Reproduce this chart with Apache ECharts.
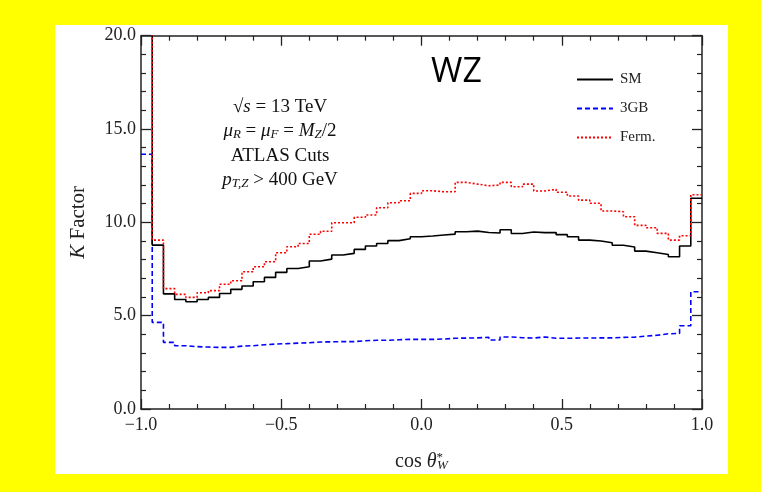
<!DOCTYPE html>
<html><head><meta charset="utf-8">
<script src="https://cdn.jsdelivr.net/npm/echarts@6/dist/echarts.min.js"></script>
<style>html,body{margin:0;padding:0;background:#ffff00;}#c{width:761px;height:492px;}</style>
</head><body><div id="c"></div>
<script>
// Histogram binning: 50 bins of width 0.04 on [-1, 1]
const binStart = -1.0;
const binWidth = 0.04;
const seriesNames = ['SM', '3GB', 'Ferm.'];
const smValues = [30, 8.78, 6.17, 5.87, 5.75, 5.87, 5.98, 6.19, 6.41, 6.59,
  6.82, 7.05, 7.32, 7.53, 7.62, 7.93, 8.03, 8.25, 8.34, 8.55,
  8.73, 8.87, 9.02, 9.12, 9.23, 9.27, 9.32, 9.37, 9.50, 9.53,
  9.46, 9.43, 9.60, 9.40, 9.48, 9.45, 9.45, 9.34, 9.23, 9.05,
  9.00, 8.91, 8.77, 8.68, 8.46, 8.37, 8.28, 8.16, 8.73, 11.29];
const gbValues = [13.65, 4.64, 3.57, 3.39, 3.34, 3.32, 3.30, 3.30, 3.37, 3.39,
  3.44, 3.48, 3.50, 3.53, 3.55, 3.59, 3.60, 3.61, 3.61, 3.66,
  3.68, 3.68, 3.71, 3.73, 3.73, 3.73, 3.75, 3.79, 3.80, 3.81,
  3.84, 3.70, 3.86, 3.82, 3.80, 3.86, 3.79, 3.79, 3.80, 3.80,
  3.81, 3.81, 3.84, 3.85, 3.91, 3.95, 4.03, 4.05, 4.46, 6.28];
const fermValues = [30, 9.05, 6.45, 6.14, 5.98, 6.23, 6.34, 6.68, 6.87, 7.35,
  7.62, 7.89, 8.37, 8.69, 8.87, 9.36, 9.52, 9.98, 9.98, 10.27,
  10.39, 10.78, 11.05, 11.16, 11.55, 11.69, 11.64, 11.64, 12.14, 12.05,
  11.96, 12.00, 12.14, 11.91, 12.05, 11.68, 11.77, 11.61, 11.41, 11.19,
  11.02, 10.61, 10.57, 10.30, 9.84, 9.71, 9.41, 9.05, 9.28, 11.48];
const xMin = -1.0, xMax = 1.0, xInterval = 0.5;
const yMin = 0, yMax = 20, yInterval = 5;

function toSteps(vals) {
  const pts = vals.map((v, i) => [binStart + i * binWidth, v]);
  pts.push([binStart + vals.length * binWidth, vals[vals.length - 1]]);
  return pts;
}
const serif = 'Liberation Serif';
const axisColor = '#222';
function fmtX(v) { return v < 0 ? '\u2212' + Math.abs(v).toFixed(1) : v.toFixed(1); }

const baseX = {
  type: 'value', min: xMin, max: xMax, interval: xInterval,
  axisLine: { show: true, onZero: false, lineStyle: { color: axisColor, width: 1.5 } },
  axisTick: { show: true, inside: true, length: 10, lineStyle: { color: axisColor, width: 1.3 } },
  minorTick: { show: true, splitNumber: 5, length: 5, lineStyle: { color: axisColor, width: 1.2 } },
  splitLine: { show: false }
};
const baseY = {
  type: 'value', min: yMin, max: yMax, interval: yInterval,
  axisLine: { show: true, onZero: false, lineStyle: { color: axisColor, width: 1.5 } },
  axisTick: { show: true, inside: true, length: 10, lineStyle: { color: axisColor, width: 1.3 } },
  minorTick: { show: true, splitNumber: 5, length: 5, lineStyle: { color: axisColor, width: 1.2 } },
  splitLine: { show: false }
};

const chart = echarts.init(document.getElementById('c'), null, { renderer: 'canvas' });
const subStyle = { fontFamily: serif, fontSize: 13, fontStyle: 'italic', color: '#111', verticalAlign: 'bottom', padding: [8, 0, 0, 0] };
const itStyle = { fontFamily: serif, fontSize: 19, fontStyle: 'italic', color: '#111' };

chart.setOption({
  backgroundColor: '#ffff00',
  animation: false,
  grid: { left: 141, right: 59, top: 35.7, bottom: 83, containLabel: false },
  graphic: [
    { type: 'rect', z: -10, shape: { x: 55, y: 25, width: 673, height: 449 }, style: { fill: '#ffffff' } },
    { type: 'text', left: 431, top: 55, style: { text: 'WZ', font: '34px "Open Sans"', fill: '#000' } },
    { type: 'text', x: 280, y: 107, style: { text: '\u221A{i|s} = 13 TeV', textAlign: 'center', textVerticalAlign: 'middle', font: '19px "Liberation Serif"', fill: '#111', rich: { i: itStyle } } },
    { type: 'text', x: 280, y: 131, style: { text: '{i|\u03BC}{s|R} = {i|\u03BC}{s|F} = {i|M}{s|Z}/2', textAlign: 'center', textVerticalAlign: 'middle', font: '19px "Liberation Serif"', fill: '#111', rich: { i: itStyle, s: subStyle } } },
    { type: 'text', x: 280, y: 156, style: { text: 'ATLAS Cuts', textAlign: 'center', textVerticalAlign: 'middle', font: '19px "Liberation Serif"', fill: '#111' } },
    { type: 'text', x: 280, y: 180, style: { text: '{i|p}{s|T,Z} > 400 GeV', textAlign: 'center', textVerticalAlign: 'middle', font: '19px "Liberation Serif"', fill: '#111', rich: { i: itStyle, s: subStyle } } }
  ],
  legend: {
    orient: 'vertical', left: 576, top: 72, padding: 0, itemWidth: 36, itemHeight: 10, itemGap: 14,
    data: seriesNames,
    itemStyle: { opacity: 0 },
    textStyle: { fontFamily: serif, fontSize: 15, color: '#222', padding: [0, 0, 0, 2] }
  },
  xAxis: [
    Object.assign({}, baseX, {
      position: 'bottom',
      axisLabel: { show: true, margin: 7, fontFamily: serif, fontSize: 18, color: '#222', formatter: fmtX },
      name: '{a|cos }{i|\u03B8}{p|*}{s|W}', nameLocation: 'middle', nameGap: 42,
      nameTextStyle: { fontFamily: serif, fontSize: 20, color: '#222',
        rich: { a: { fontFamily: serif, fontSize: 20, color: '#222' }, i: { fontFamily: serif, fontSize: 20, fontStyle: 'italic', color: '#222' },
          p: { fontFamily: serif, fontSize: 13, color: '#222', verticalAlign: 'top', padding: [0, 0, 8, 0] },
          s: { fontFamily: serif, fontSize: 13, fontStyle: 'italic', color: '#222', verticalAlign: 'bottom', padding: [8, 0, 0, -6] } } }
    }),
    Object.assign({}, baseX, { position: 'top', axisLabel: { show: false } })
  ],
  yAxis: [
    Object.assign({}, baseY, {
      position: 'left',
      axisLabel: { show: true, margin: 5, fontFamily: serif, fontSize: 18, color: '#222', formatter: v => v.toFixed(1) },
      name: '{i|K} Factor', nameLocation: 'middle', nameGap: 52, nameRotate: 90,
      nameTextStyle: { fontFamily: serif, fontSize: 21, color: '#222', rich: { i: { fontFamily: serif, fontSize: 21, fontStyle: 'italic', color: '#222' } } }
    }),
    Object.assign({}, baseY, { position: 'right', axisLabel: { show: false } })
  ],
  series: [
    { name: '3GB', type: 'line', step: 'end', symbol: 'none', data: toSteps(gbValues), clip: true,
      lineStyle: { color: '#0000ff', width: 1.6, type: [5, 3] }, itemStyle: { color: '#0000ff' }, z: 3 },
    { name: 'SM', type: 'line', step: 'end', symbol: 'none', data: toSteps(smValues), clip: true,
      lineStyle: { color: '#000000', width: 1.6 }, itemStyle: { color: '#000000' }, z: 4 },
    { name: 'Ferm.', type: 'line', step: 'end', symbol: 'none', data: toSteps(fermValues), clip: true,
      lineStyle: { color: '#ff0000', width: 1.6, type: [2, 2] }, itemStyle: { color: '#ff0000' }, z: 5 }
  ]
});
</script></body></html>
